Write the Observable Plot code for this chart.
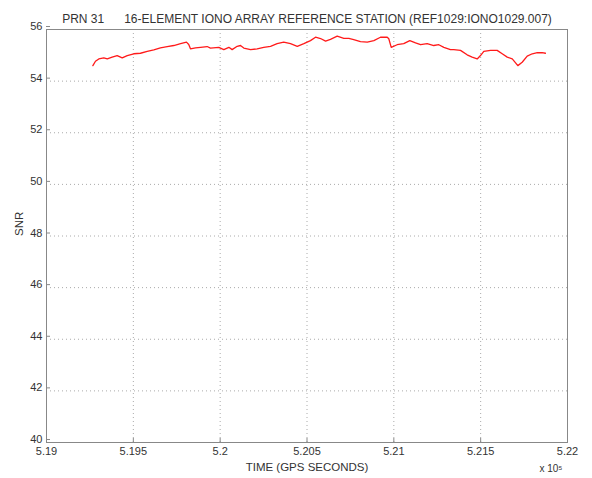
<!DOCTYPE html>
<html>
<head>
<meta charset="utf-8">
<script src="https://cdn.jsdelivr.net/npm/d3@7"></script>
<script src="https://cdn.jsdelivr.net/npm/@observablehq/plot@0.6"></script>
<style>
  html, body { margin: 0; padding: 0; background: #fff; }
  #chart svg { display: block; }
</style>
</head>
<body>
<div id="chart"></div>
<script>
const titleText = "PRN 31      16-ELEMENT IONO ARRAY REFERENCE STATION (REF1029:IONO1029.007)";
const xLabel = "TIME (GPS SECONDS)";
const yLabel = "SNR";
const xTicks = [519000, 519500, 520000, 520500, 521000, 521500, 522000];
const xTickLabels = ["5.19", "5.195", "5.2", "5.205", "5.21", "5.215", "5.22"];
const yTicks = [40, 42, 44, 46, 48, 50, 52, 54, 56];
const timeSec = [519267, 519282, 519301, 519330, 519350, 519378, 519407, 519436, 519465, 519503,
  519541, 519580, 519618, 519656, 519695, 519733, 519772, 519806, 519819, 519829,
  519858, 519887, 519925, 519944, 519992, 520021, 520050, 520069, 520098, 520117,
  520136, 520175, 520213, 520251, 520290, 520328, 520366, 520405, 520444, 520482,
  520520, 520549, 520578, 520607, 520635, 520674, 520712, 520741, 520769, 520808,
  520847, 520885, 520923, 520962, 520971, 520985, 521019, 521057, 521092, 521125,
  521154, 521192, 521230, 521259, 521288, 521326, 521345, 521384, 521422, 521451,
  521480, 521499, 521518, 521557, 521595, 521624, 521653, 521682, 521701, 521714,
  521739, 521768, 521797, 521826, 521854, 521873];
const snr = [54.60, 54.77, 54.86, 54.90, 54.86, 54.93, 54.99, 54.90, 54.99, 55.06,
  55.08, 55.15, 55.21, 55.29, 55.34, 55.38, 55.45, 55.51, 55.42, 55.25,
  55.29, 55.31, 55.34, 55.28, 55.31, 55.22, 55.31, 55.22, 55.35, 55.38,
  55.28, 55.22, 55.25, 55.31, 55.35, 55.45, 55.51, 55.45, 55.35, 55.45,
  55.57, 55.70, 55.65, 55.55, 55.62, 55.74, 55.66, 55.66, 55.61, 55.53,
  55.51, 55.57, 55.70, 55.70, 55.64, 55.31, 55.41, 55.45, 55.57, 55.48,
  55.41, 55.45, 55.38, 55.41, 55.31, 55.22, 55.22, 55.19, 55.02, 54.93,
  54.86, 54.99, 55.15, 55.19, 55.19, 55.06, 54.93, 54.86, 54.71, 54.60,
  54.73, 54.97, 55.06, 55.10, 55.10, 55.08];

const data = timeSec.map((t, i) => ({t, v: snr[i]}));
const xLabelMap = new Map(xTicks.map((t, i) => [t, xTickLabels[i]]));
const font = "'Liberation Sans', Arial, sans-serif";

const plot = Plot.plot({
  width: 592,
  height: 478,
  marginLeft: 46,
  marginRight: 25,
  marginTop: 29,
  marginBottom: 36,
  style: {fontFamily: font, fontSize: "11px", color: "#333", background: "#fff"},
  x: {type: "linear", domain: [519000, 522000]},
  y: {type: "linear", domain: [40, 56]},
  marks: [
    Plot.gridX(xTicks, {stroke: "#aaa", strokeOpacity: 1, strokeDasharray: "1,3"}),
    Plot.gridY(yTicks, {stroke: "#aaa", strokeOpacity: 1, strokeDasharray: "1,3"}),
    Plot.frame({stroke: "#888", strokeWidth: 1}),
    Plot.axisX(xTicks, {tickSize: -4, tickPadding: 9, stroke: "#888", tickFormat: d => xLabelMap.get(d), label: null, fill: "#333"}),
    Plot.axisY(yTicks, {tickSize: -4, tickPadding: 8, dy: -3, stroke: "#888", label: null, fill: "#333"}),
    Plot.line(data, {x: "t", y: "v", stroke: "#ff1a1a", strokeWidth: 1.3}),
    Plot.text([xLabel], {frameAnchor: "bottom", dy: 28, text: d => d, fill: "#333", fontSize: 11.5}),
    Plot.text([yLabel], {frameAnchor: "left", dx: -27, rotate: -90, text: d => d, fill: "#333", fontSize: 11.5}),
    Plot.text(["x 10\u2075"], {frameAnchor: "bottom-right", dx: -5, dy: 29, text: d => d, fill: "#333", fontSize: 10}),
    Plot.text([titleText], {frameAnchor: "top", dy: -15, text: d => d, fill: "#333", fontSize: 12})
  ]
});
document.getElementById("chart").appendChild(plot);
</script>
</body>
</html>
